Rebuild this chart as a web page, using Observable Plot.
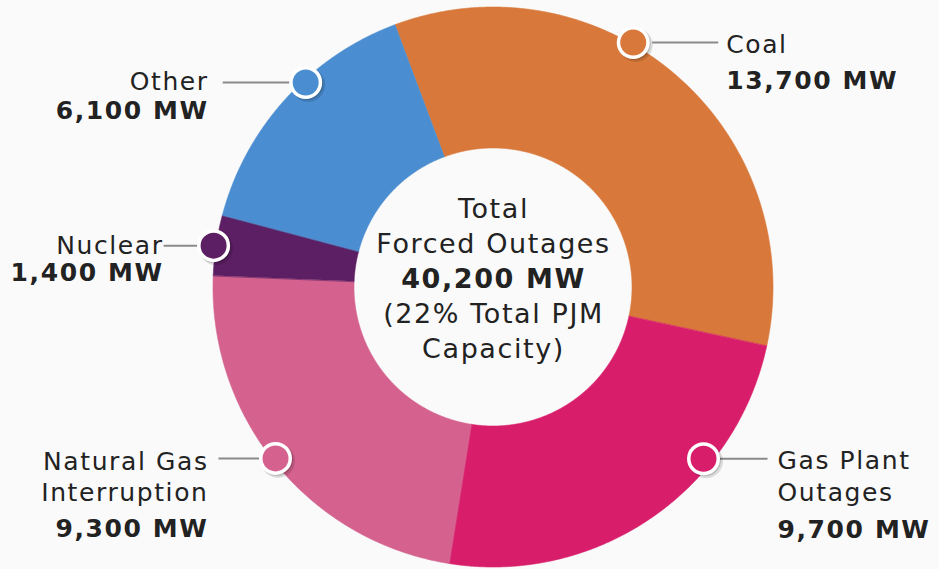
<!DOCTYPE html>
<html><head><meta charset="utf-8">
<script src="https://cdn.jsdelivr.net/npm/d3@7"></script>
<script src="https://cdn.jsdelivr.net/npm/@observablehq/plot@0.6"></script>
<style>
html,body{margin:0;padding:0;background:#fafafa;}
#chart svg{display:block;}
</style>
</head><body><div id="chart"></div>
<script>
// ---- data ----
const categories = ["Coal", "Gas Plant Outages", "Natural Gas Interruption", "Nuclear", "Other"];
const valuesMW = [13700, 9700, 9300, 1400, 6100];
const nameLines = [["Coal"], ["Gas Plant", "Outages"], ["Natural Gas", "Interruption"], ["Nuclear"], ["Other"]];
const centerTop = ["Total", "Forced Outages"];
const centerBottom = ["(22% Total PJM", "Capacity)"];
const colors = ["#d8793b", "#d81e6b", "#d4618e", "#5c1f63", "#4a8dd0"];

// ---- layout ----
const W = 939, H = 569, cx = 493, cy = 287, R = 280, R0 = 139;
const startDeg = -20.5;
const labelAngleDeg = [29.7, 129.2, 231.9, 278.5, 317.5];
const labelDist = [282, 271, 277, 283, 278];
const side = [1, 1, -1, -1, -1];
const linkFrom = [19, 16, 16, 16, 15];
const linkTo = [85, 64, 57, 50, 83];
const textGap = [93, 74, 67, 50, 97];
const baseOffsets = [[10, 46], [10, 42, 79], [12, 43, 79], [8, 35], [7, 36]];

const fmt = d3.format(",");
const rad = d => d * Math.PI / 180;
const pie = d3.pie().sort(null).value(d => d.v)
  .startAngle(rad(startDeg)).endAngle(rad(startDeg) + 2 * Math.PI);
const data = categories.map((c, i) => ({cat: c, v: valuesMW[i]}));
const arcs = pie(data);

const bands = [];
for (const a of arcs) {
  const n = Math.ceil((a.endAngle - a.startAngle) / 0.004) + 1;
  for (let k = 0; k < n; k++) {
    const t = a.startAngle + (a.endAngle - a.startAngle) * k / (n - 1);
    bands.push({cat: a.data.cat, x1: R * Math.sin(t), y1: -R * Math.cos(t), x2: R0 * Math.sin(t), y2: -R0 * Math.cos(t)});
  }
}

const labels = categories.map((c, i) => {
  const t = rad(labelAngleDeg[i]);
  return {cat: c, i, x: labelDist[i] * Math.sin(t), y: -labelDist[i] * Math.cos(t)};
});
const links = labels.map(l => ({x1: l.x + side[l.i] * linkFrom[l.i], x2: l.x + side[l.i] * linkTo[l.i], y: l.y}));

const regText = [], boldText = [];
labels.forEach(l => {
  const tx = l.x + side[l.i] * textGap[l.i];
  const anchor = side[l.i] > 0 ? "start" : "end";
  nameLines[l.i].forEach((s, k) => regText.push({x: tx, y: l.y + baseOffsets[l.i][k], text: s, anchor}));
  boldText.push({x: tx, y: l.y + baseOffsets[l.i][nameLines[l.i].length], text: fmt(valuesMW[l.i]) + " MW", anchor});
});
const total = d3.sum(valuesMW);
const centerReg = [
  {x: 0, y: -70, text: centerTop[0]}, {x: 0, y: -35, text: centerTop[1]},
  {x: 0, y: 35, text: centerBottom[0]}, {x: 0, y: 70, text: centerBottom[1]}
];
const centerBold = [{x: 0, y: 0, text: fmt(total) + " MW"}];

const font = "DejaVu Sans";
const sideText = (rows, anchor, weight) => Plot.text(rows.filter(d => d.anchor === anchor), {
  x: "x", y: "y", text: "text", textAnchor: anchor, lineAnchor: "bottom",
  fontSize: 25, fontWeight: weight, fontFamily: font, fill: "#222"
});
const chart = Plot.plot({
  width: W, height: H, margin: 0,
  x: {domain: [-cx, W - cx], range: [0, W], axis: null},
  y: {domain: [-cy, H - cy], range: [0, H], axis: null},
  color: {domain: categories, range: colors},
  style: {background: "transparent", letterSpacing: "1.6px"},
  marks: [
    Plot.area(bands, {x1: "x1", y1: "y1", x2: "x2", y2: "y2", z: "cat", fill: "cat", stroke: "cat", strokeWidth: 0.6}),
    Plot.link(links, {x1: "x1", x2: "x2", y1: "y", y2: "y", stroke: "#8a8a8a", strokeWidth: 2}),
    Plot.dot(labels, {x: "x", y: "y", r: 17, fill: "#000", fillOpacity: 0.12, dx: 2.5, dy: 2.5}),
    Plot.dot(labels, {x: "x", y: "y", r: 16, fill: "#000", fillOpacity: 0.15, dx: 1.5, dy: 1.5}),
    Plot.dot(labels, {x: "x", y: "y", r: 14.75, fill: "cat", stroke: "white", strokeWidth: 3.5}),
    sideText(regText, "start", "normal"),
    sideText(regText, "end", "normal"),
    sideText(boldText, "start", "bold"),
    sideText(boldText, "end", "bold"),
    Plot.text(centerReg, {x: "x", y: "y", text: "text", textAnchor: "middle", lineAnchor: "bottom", fontSize: 27, fontFamily: font, fill: "#222"}),
    Plot.text(centerBold, {x: "x", y: "y", text: "text", textAnchor: "middle", lineAnchor: "bottom", fontSize: 27, fontWeight: "bold", fontFamily: font, fill: "#222"})
  ]
});
document.getElementById("chart").appendChild(chart);
</script>
</body></html>
